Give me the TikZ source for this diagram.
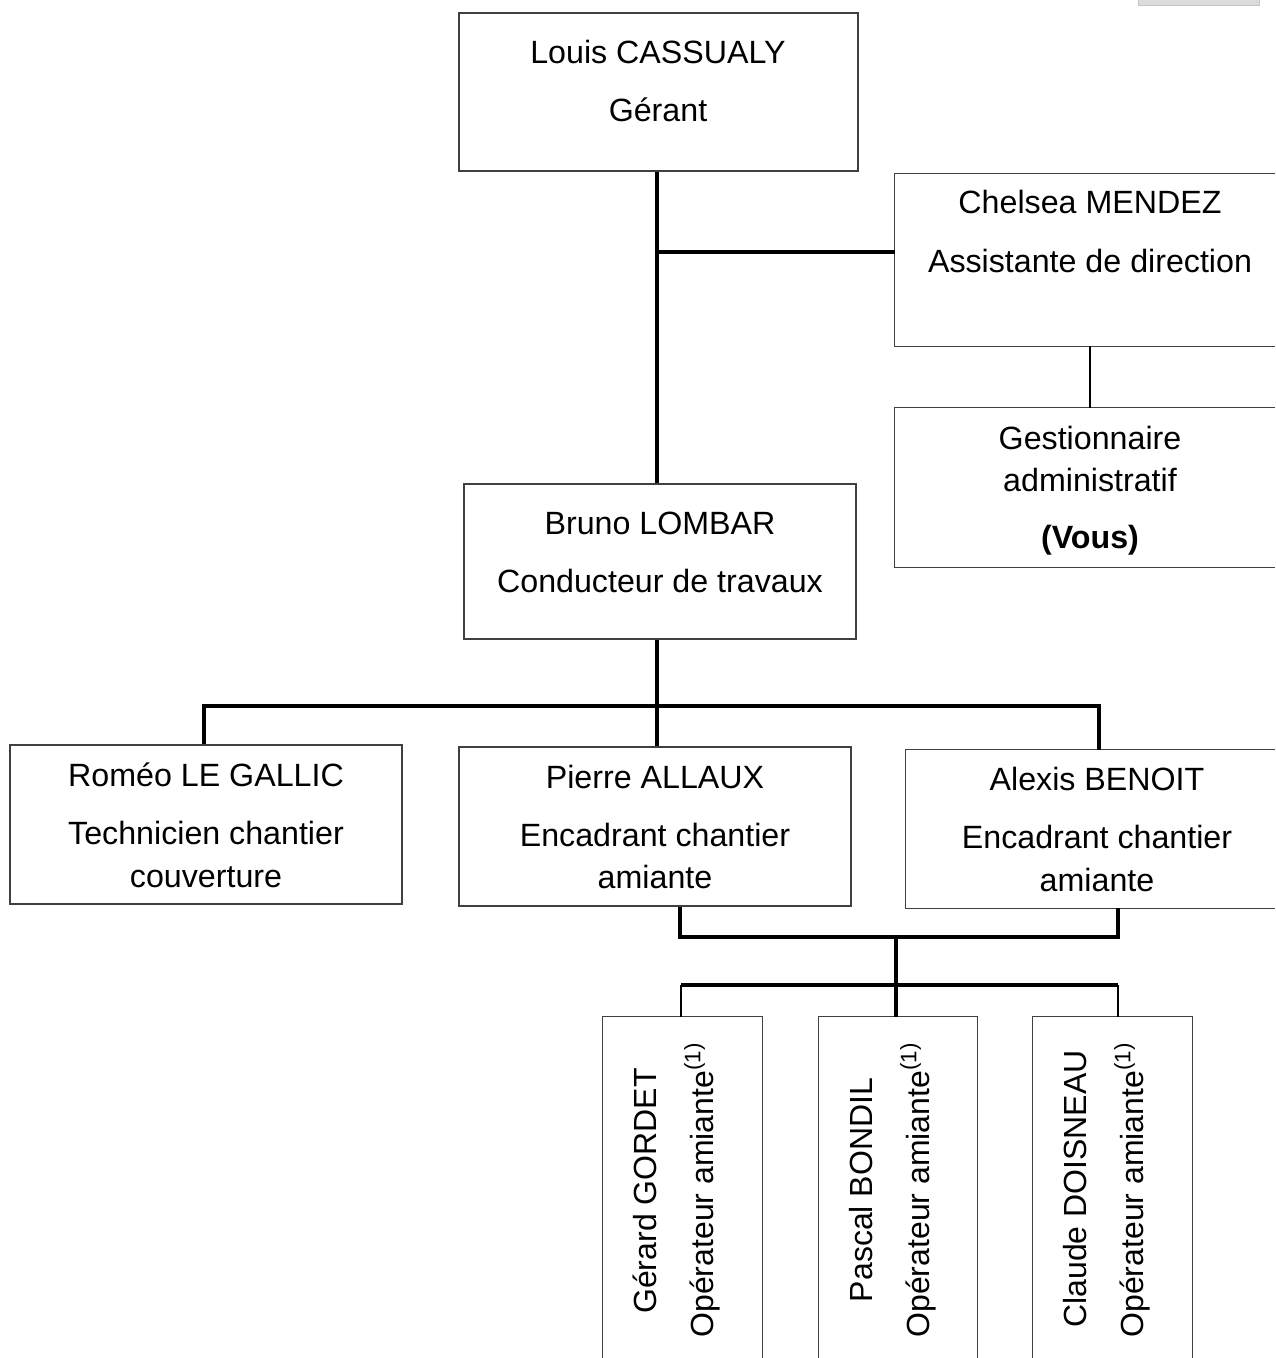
\documentclass[tikz,border=0pt]{standalone}
\usepackage{fontspec}
\setmainfont{Liberation Sans}
\usetikzlibrary{fit}
\begin{document}
\begin{tikzpicture}[x=0.5pt,y=-0.5pt,
  box/.style={inner sep=0pt, draw=black!75, line width=0.75pt},
  openbox/.style={inner sep=0pt},
  boxline/.style={draw=black!75, line width=0.75pt},
  edge/.style={draw=black, line width=1.6pt},
  medge/.style={draw=black, line width=1.2pt},
  thinedge/.style={draw=black, line width=0.75pt},
  txt/.style={anchor=base, inner sep=0pt, font=\fontsize{16.1}{18}\selectfont},
  vtxt/.style={anchor=base, rotate=90, inner sep=0pt, font=\fontsize{16}{18}\selectfont}]

\useasboundingbox (0,0) rectangle (1275,1358);
\fill[gray!28, draw=gray!45, line width=0.3pt] (1138,-1) rectangle (1259,5);

% boxes
\node[box, fit={(459,13) (858,171)}] (louis) {};
\node[openbox, fit={(895,174) (1275,346)}] (chelsea) {};
\node[openbox, fit={(895,408) (1275,567)}] (gest) {};
\node[box, fit={(464,484) (856,639)}] (bruno) {};
\node[box, fit={(10,745) (402,904)}] (romeo) {};
\node[box, fit={(459,747) (851,906)}] (pierre) {};
\node[openbox, fit={(906,750) (1275,908)}] (alexis) {};
\node[openbox, fit={(603,1017) (762,1358)}] (gerard) {};
\node[openbox, fit={(819,1017) (977,1358)}] (pascal) {};
\node[openbox, fit={(1033,1017) (1192,1358)}] (claude) {};

\draw[boxline] (chelsea.north east) -- (chelsea.north west) -- (chelsea.south west) -- (chelsea.south east);
\draw[boxline] (gest.north east) -- (gest.north west) -- (gest.south west) -- (gest.south east);
\draw[boxline] (alexis.north east) -- (alexis.north west) -- (alexis.south west) -- (alexis.south east);
\draw[boxline] (gerard.south west) -- (gerard.north west) -- (gerard.north east) -- (gerard.south east);
\draw[boxline] (pascal.south west) -- (pascal.north west) -- (pascal.north east) -- (pascal.south east);
\draw[boxline] (claude.south west) -- (claude.north west) -- (claude.north east) -- (claude.south east);

% junction coordinates
\coordinate (j1) at (657,252);
\coordinate (j2) at (657,706);
\coordinate (r1) at (204,706);
\coordinate (a1) at (1099,706);
\coordinate (p2) at (680,937);
\coordinate (a2) at (1118,937);
\coordinate (j3) at (896,937);
\coordinate (g4) at (681,985);
\coordinate (c4) at (1118,985);
\coordinate (s1) at (1090,0);

% connectors
\draw[edge] (louis.south -| j1) -- (bruno.north -| j1);
\draw[edge] (j1) -- (j1 -| chelsea.west);
\draw[thinedge] (chelsea.south -| s1) -- (gest.north -| s1);
\draw[edge] (bruno.south -| j2) -- (pierre.north -| j2);
\draw[edge] (romeo.north -| r1) -- (r1) -- (a1) -- (alexis.north -| a1);
\draw[edge] (pierre.south -| p2) -- (p2) -- (a2) -- (alexis.south -| a2);
\draw[edge] (j3) -- (pascal.north -| j3);
\draw[edge] (g4) -- (c4);
\draw[medge] (gerard.north -| g4) -- (g4);
\draw[medge] (claude.north -| c4) -- (c4);

% texts
\node[txt] (louis-a) at (658,64) {Louis CASSUALY};
\node[txt] (louis-b) at (658,122) {Gérant};
\node[txt] (chelsea-a) at (1090,214) {Chelsea MENDEZ};
\node[txt] (chelsea-b) at (1090,273) {Assistante de direction};
\node[txt] (gest-a) at (1090,449) {Gestionnaire};
\node[txt] (gest-b) at (1090,491) {administratif};
\node[txt] (gest-c) at (1090,548) {\bfseries (Vous)};
\node[txt] (bruno-a) at (660,534) {Bruno LOMBAR};
\node[txt] (bruno-b) at (660,592) {Conducteur de travaux};
\node[txt] (romeo-a) at (206,786) {Roméo LE GALLIC};
\node[txt] (romeo-b) at (206,844) {Technicien chantier};
\node[txt] (romeo-c) at (206,887) {couverture};
\node[txt] (pierre-a) at (655,788) {Pierre ALLAUX};
\node[txt] (pierre-b) at (655,846) {Encadrant chantier};
\node[txt] (pierre-c) at (655,888) {amiante};
\node[txt] (alexis-a) at (1097,790) {Alexis BENOIT};
\node[txt] (alexis-b) at (1097,848) {Encadrant chantier};
\node[txt] (alexis-c) at (1097,891) {amiante};

\node[vtxt] (gerard-a) at (656,1191) {Gérard GORDET};
\node[vtxt] (gerard-b) at (713,1190) {Opérateur amiante\textsuperscript{(1)}};
\node[vtxt] (pascal-a) at (872,1190) {Pascal BONDIL};
\node[vtxt] (pascal-b) at (929,1190) {Opérateur amiante\textsuperscript{(1)}};
\node[vtxt] (claude-a) at (1086,1189) {Claude DOISNEAU};
\node[vtxt] (claude-b) at (1143,1190) {Opérateur amiante\textsuperscript{(1)}};
\end{tikzpicture}
\end{document}
